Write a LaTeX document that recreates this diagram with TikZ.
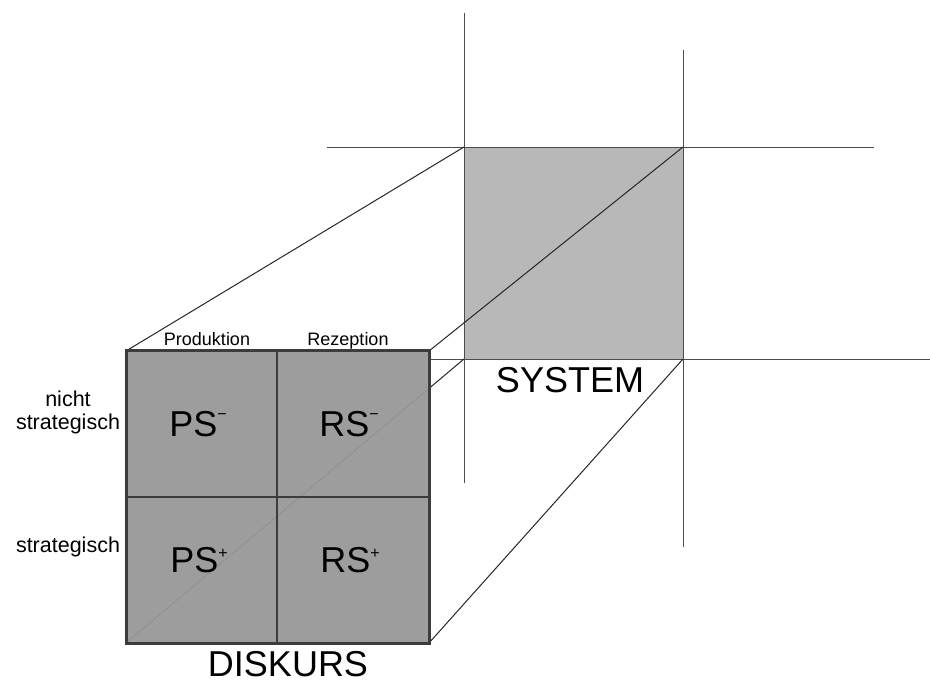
\documentclass[tikz,border=0pt]{standalone}
\usepackage{fontspec}
\setmainfont{Liberation Sans}
\definecolor{frontgray}{HTML}{989898}
\definecolor{sysgray}{HTML}{B8B8B8}
\definecolor{edgegray}{HTML}{3C3C3C}
\newcommand{\supminus}{\raisebox{17pt}{\fontsize{16}{16}\selectfont −}}
\newcommand{\supplus}{\raisebox{15pt}{\fontsize{16}{16}\selectfont +}}
\begin{document}
\begin{tikzpicture}[x=1pt,y=-1pt,
  gridline/.style={draw=black!70, line width=0.9pt},
  conn/.style={draw=black!85, line width=1pt},
  small/.style={font=\fontsize{18}{21}\selectfont, inner sep=0pt, anchor=base},
  side/.style={font=\fontsize{21.5}{23}\selectfont, inner sep=0pt, align=center},
  cell/.style={font=\fontsize{36}{40}\selectfont, inner sep=0pt, anchor=base},
  big/.style={font=\fontsize{36}{40}\selectfont, inner sep=0pt, anchor=base}]
\useasboundingbox (0,0) rectangle (930,684);
% corners
\coordinate (Stl) at (464,147);
\coordinate (Str) at (683,147);
\coordinate (Sbl) at (464,359);
\coordinate (Sbr) at (683,359);
\coordinate (Ftl) at (126,351);
\coordinate (Ftr) at (429,351);
\coordinate (Fbl) at (126,643);
\coordinate (Fbr) at (429,643);
\coordinate (Fmt) at (277,351);
\coordinate (Fmb) at (277,643);
\coordinate (Fml) at (126,497);
\coordinate (Fmr) at (429,497);
% grid line ends
\coordinate (v1a) at (464,13);
\coordinate (v1b) at (464,483);
\coordinate (v2a) at (683,50);
\coordinate (v2b) at (683,547);
\coordinate (h1a) at (327,147);
\coordinate (h1b) at (874,147);
\coordinate (h2a) at (429,359);
\coordinate (h2b) at (930,359);
% system square
\fill[sysgray] (Stl) rectangle (Sbr);
\draw[gridline] (v1a) -- (v1b);
\draw[gridline] (v2a) -- (v2b);
\draw[gridline] (h1a) -- (h1b);
\draw[gridline] (h2a) -- (h2b);
% connectors
\draw[conn] (Ftl) -- (Stl);
\draw[conn] (Ftr) -- (Str);
\draw[conn] (Fbr) -- (Sbr);
\draw[conn] (Fbl) -- (Sbl);
% front square
\fill[frontgray, fill opacity=0.95] (Ftl) rectangle (Fbr);
\draw[edgegray, line width=1.8pt] (Fmt) -- (Fmb);
\draw[edgegray, line width=1.8pt] (Fml) -- (Fmr);
\draw[edgegray, line width=3pt] (Ftl) rectangle (Fbr);
% labels
\node[small] (prod) at (207,346) {Produktion};
\node[small] (rez) at (348,346) {Rezeption};
\node[side, anchor=base] (nicht) at (68,430) {nicht\\strategisch};
\node[side, anchor=base] (strat) at (68,553) {strategisch};
\node[cell] (psm) at (198,437) {PS\supminus};
\node[cell] (rsm) at (349,437) {RS\supminus};
\node[cell] (psp) at (199,573) {PS\supplus};
\node[cell] (rsp) at (350,573) {RS\supplus};
\node[big] (system) at (570,393) {SYSTEM};
\node[big] (diskurs) at (288,676) {DISKURS};
\end{tikzpicture}
\end{document}
